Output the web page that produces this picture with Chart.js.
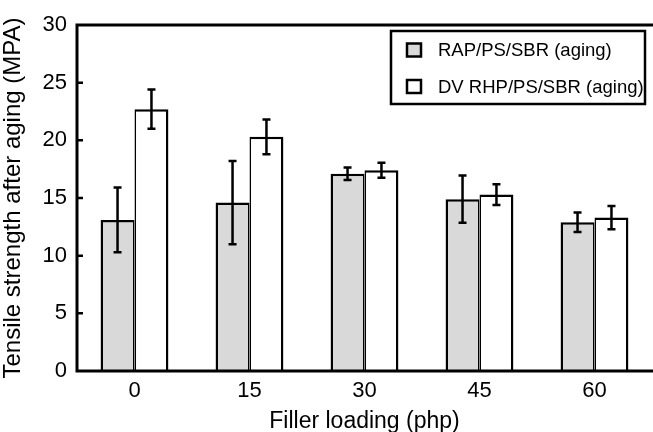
<!DOCTYPE html>
<html>
<head>
<meta charset="utf-8">
<script src="https://cdn.jsdelivr.net/npm/chart.js@4/dist/chart.umd.min.js"></script>
<style>
  html, body { margin: 0; padding: 0; background: #fff; }
  #wrap { width: 653px; height: 432px; position: relative; }
</style>
</head>
<body>
<div id="wrap"><canvas id="c" width="653" height="432"></canvas></div>
<script>
const categories = ['0', '15', '30', '45', '60'];
const seriesNames = ['RAP/PS/SBR (aging)', 'DV RHP/PS/SBR (aging)'];
const rapValues = [13.1, 14.6, 17.1, 14.9, 12.9];
const rapErrors = [2.8, 3.6, 0.55, 2.05, 0.85];
const dvValues = [22.7, 20.3, 17.4, 15.3, 13.3];
const dvErrors = [1.7, 1.5, 0.65, 0.9, 1.0];
const yTicks = [0, 5, 10, 15, 20, 25, 30];

const FONT = "'Liberation Sans', Arial, Helvetica, sans-serif";
const GRAY = '#d9d9d9';

const errorBars = {
  id: 'errorBars',
  afterDatasetsDraw(chart) {
    const ctx = chart.ctx;
    const y = chart.scales.y;
    ctx.save();
    ctx.strokeStyle = '#000';
    ctx.lineWidth = 2.5;
    chart.data.datasets.forEach((ds, di) => {
      const meta = chart.getDatasetMeta(di);
      meta.data.forEach((bar, i) => {
        const v = ds.data[i], e = ds.errors[i];
        const yt = y.getPixelForValue(v + e);
        const yb = y.getPixelForValue(v - e);
        const x = bar.x;
        ctx.beginPath();
        ctx.moveTo(x, yt); ctx.lineTo(x, yb);
        ctx.moveTo(x - 4, yt); ctx.lineTo(x + 4, yt);
        ctx.moveTo(x - 4, yb); ctx.lineTo(x + 4, yb);
        ctx.stroke();
      });
    });
    ctx.restore();
  }
};

const frame = {
  id: 'frame',
  afterDraw(chart) {
    const ctx = chart.ctx;
    const a = chart.chartArea;
    const y = chart.scales.y;
    ctx.save();
    ctx.strokeStyle = '#000';
    ctx.lineWidth = 3;
    ctx.beginPath();
    ctx.moveTo(a.left - 1.5, a.top); ctx.lineTo(653, a.top);
    ctx.moveTo(a.left, a.top); ctx.lineTo(a.left, a.bottom);
    ctx.moveTo(a.left - 1.5, a.bottom); ctx.lineTo(653, a.bottom);
    ctx.stroke();
    ctx.lineWidth = 2.5;
    ctx.beginPath();
    yTicks.forEach(t => {
      if (t === 0 || t === 30) return;
      const py = y.getPixelForValue(t);
      ctx.moveTo(a.left, py); ctx.lineTo(a.left + 6, py);
    });
    ctx.stroke();

    // legend
    const bx = 391, by = 31, bw = 254, bh = 73;
    ctx.fillStyle = '#fff';
    ctx.fillRect(bx, by, bw, bh);
    ctx.lineWidth = 2.5;
    ctx.strokeRect(bx, by, bw, bh);
    const items = [
      { name: seriesNames[0], fill: GRAY, cy: 50 },
      { name: seriesNames[1], fill: '#fff', cy: 86.5 }
    ];
    ctx.font = '18.5px ' + FONT;
    ctx.textBaseline = 'middle';
    ctx.textAlign = 'left';
    items.forEach(it => {
      ctx.fillStyle = it.fill;
      ctx.fillRect(407, it.cy - 6.5, 14, 13);
      ctx.lineWidth = 2.5;
      ctx.strokeRect(407, it.cy - 6.5, 14, 13);
      ctx.fillStyle = '#000';
      ctx.fillText(it.name, 438, it.cy + 1);
    });
    ctx.restore();
  }
};

new Chart(document.getElementById('c'), {
  type: 'bar',
  data: {
    labels: categories,
    datasets: [
      { label: seriesNames[0], data: rapValues, errors: rapErrors, backgroundColor: GRAY, borderColor: '#000',
        borderWidth: { left: 2.5, top: 2.5, right: 1.6, bottom: 0 }, borderSkipped: false },
      { label: seriesNames[1], data: dvValues, errors: dvErrors, backgroundColor: '#fff', borderColor: '#000',
        borderWidth: { left: 1.6, top: 2.5, right: 2.5, bottom: 0 }, borderSkipped: false }
    ]
  },
  options: {
    responsive: false,
    animation: false,
    devicePixelRatio: 1,
    layout: { padding: { top: 25, right: 1, left: 0, bottom: 0 } },
    datasets: { bar: { barPercentage: 1.0, categoryPercentage: 0.59 } },
    plugins: { legend: { display: false }, tooltip: { enabled: false } },
    scales: {
      x: {
        grid: { display: false, drawTicks: false },
        border: { display: false },
        ticks: { color: '#000', font: { family: FONT, size: 22 }, padding: 7 },
        title: { display: true, text: 'Filler loading (php)', color: '#000', font: { family: FONT, size: 23 }, padding: { top: 0, bottom: -3 } },
        afterFit(s) { s.height = 61; }
      },
      y: {
        min: 0, max: 30,
        afterBuildTicks(s) { s.ticks = yTicks.map(v => ({ value: v })); },
        grid: { display: false, drawTicks: false },
        border: { display: false },
        ticks: { color: '#000', font: { family: FONT, size: 22 }, padding: 10 },
        title: { display: true, text: 'Tensile strength after aging (MPA)', color: '#000', font: { family: FONT, size: 24 }, padding: { top: -1, bottom: 0 } },
        afterFit(s) { s.width = 77; }
      }
    }
  },
  plugins: [errorBars, frame]
});
</script>
</body>
</html>
